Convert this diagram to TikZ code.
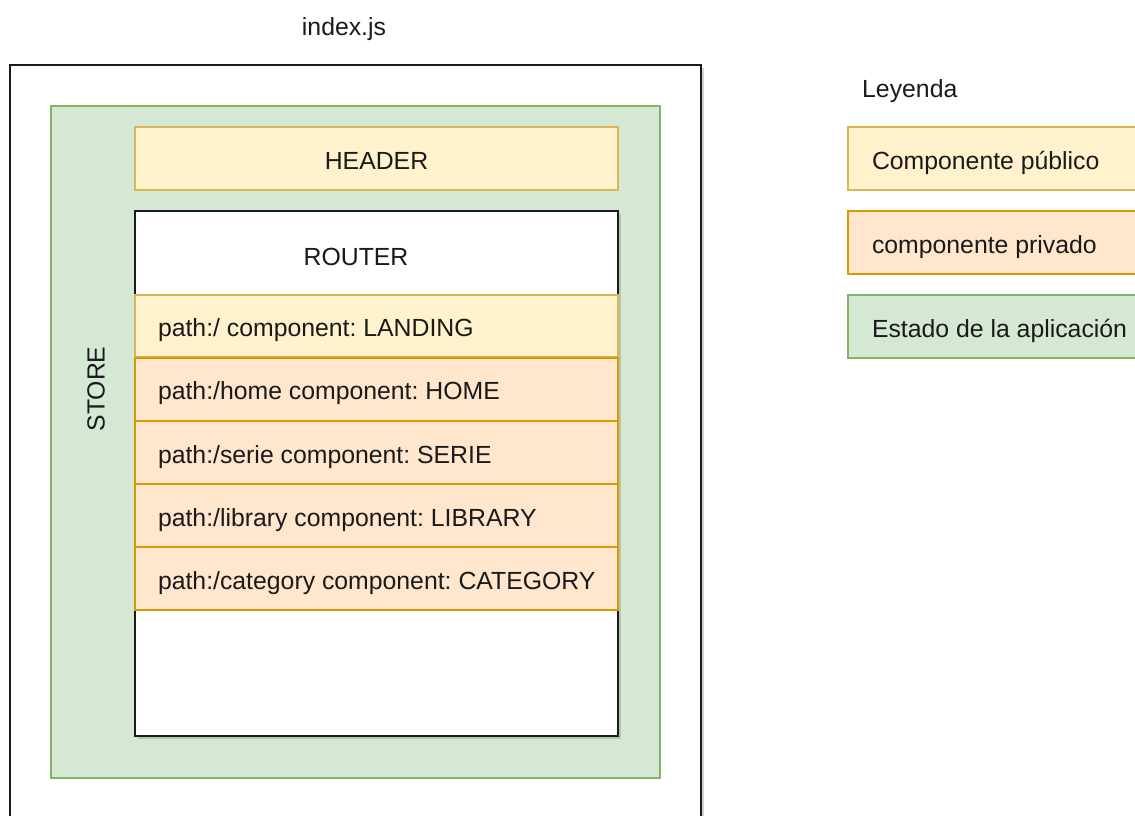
\documentclass[tikz,border=0pt]{standalone}
\usepackage{fontspec}
\setmainfont{Liberation Sans}
\usetikzlibrary{shadows}
\definecolor{pubfill}{HTML}{FFF2CC}
\definecolor{publine}{HTML}{D6B656}
\definecolor{privfill}{HTML}{FFE6CC}
\definecolor{privline}{HTML}{D79B00}
\definecolor{statefill}{HTML}{D5E8D4}
\definecolor{stateline}{HTML}{82B366}
\definecolor{ink}{HTML}{1A1A1A}
\tikzset{
  lbl/.style={font=\fontsize{24.8}{29}\selectfont\frenchspacing, text=ink, inner sep=0pt,
    text height=21pt, text depth=0pt},
  framebox/.style={draw=ink, line width=2pt, fill=white,
    drop shadow={shadow xshift=3pt, shadow yshift=-3pt, opacity=0.35}},
  statebox/.style={draw=stateline, line width=2pt, fill=statefill},
  pubbox/.style={draw=publine, line width=2pt, fill=pubfill, lbl},
  privbox/.style={draw=privline, line width=2pt, fill=privfill, lbl},
  rowtext/.style={text width=437pt, inner xsep=23pt, align=flush left},
  legtext/.style={text width=252pt, inner xsep=24pt, align=flush left},
  rowpub/.style={pubbox, minimum height=62pt, rowtext},
  rowpriv/.style={privbox, minimum height=63pt, rowtext},
  legpub/.style={pubbox, minimum height=63pt, legtext},
  legpriv/.style={privbox, minimum height=63pt, legtext},
  legstate/.style={statebox, lbl, minimum height=63pt, legtext},
}
\begin{document}
\begin{tikzpicture}[x=1pt, y=-1pt]
\useasboundingbox (0,0) rectangle (1135,816);
\clip (0,0) rectangle (1135,816);

% index.js container (runs past the lower edge)
\node[lbl] (indexlbl) at (344,25) {index.js};
\node[framebox, minimum width=691pt, minimum height=790pt, inner sep=0pt] (index) at (355.5,460) {};

% application store
\node[statebox, minimum width=609pt, minimum height=672pt, inner sep=0pt] (store) at (355.5,442) {};
\node[lbl, rotate=90] (storelbl) at (94,389) {STORE};

% header
\node[pubbox, minimum width=483pt, minimum height=63pt] (header) at (376.5,158.5) {HEADER};

% router with its routes
\node[framebox, line width=1.6pt, minimum width=483pt, minimum height=525pt, inner sep=0pt] (router) at (376.5,473.5) {};
\node[lbl] (routerlbl) at (356,255) {ROUTER};
\node[rowpub]  (landing)  at (376.5,326)   {\mbox{path:/ component: LANDING}};
\node[rowpriv] (home)     at (376.5,389)   {\mbox{path:/home component: HOME}};
\node[rowpriv] (serie)    at (376.5,452.5) {\mbox{path:/serie component: SERIE}};
\node[rowpriv] (library)  at (376.5,515.5) {\mbox{path:/library component: LIBRARY}};
\node[rowpriv] (category) at (376.5,578.5) {\mbox{path:/category component: CATEGORY}};

% legend
\node[lbl, anchor=west] (legendlbl) at (862,87) {Leyenda};
\node[legpub,   anchor=west] (legA) at (847,158.5) {\mbox{Componente público}};
\node[legpriv,  anchor=west] (legB) at (847,242.5) {\mbox{componente privado}};
\node[legstate, anchor=west] (legC) at (847,326.5) {\mbox{Estado de la aplicación}};
\end{tikzpicture}
\end{document}
